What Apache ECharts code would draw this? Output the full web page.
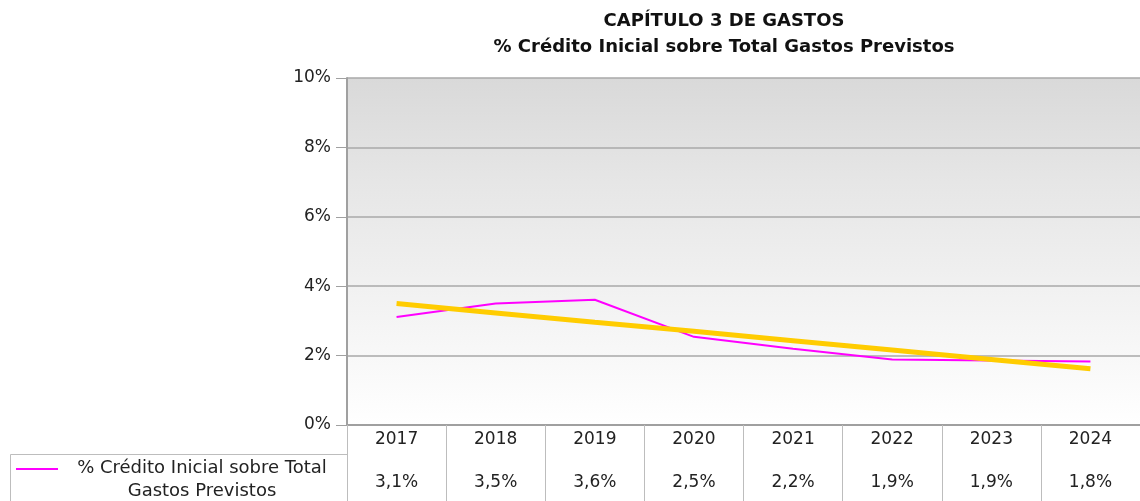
<!DOCTYPE html>
<html>
<head>
<meta charset="utf-8">
<script src="https://cdn.jsdelivr.net/npm/echarts@6/dist/echarts.min.js"></script>
<style>
  html, body { margin: 0; padding: 0; background: #fff; }
  #chart { width: 1140px; height: 501px; }
</style>
</head>
<body>
<div id="chart"></div>
<script>
// data
const years = ["2017", "2018", "2019", "2020", "2021", "2022", "2023", "2024"];
const creditoPct = [3.11, 3.50, 3.61, 2.54, 2.20, 1.89, 1.86, 1.83];
const trendPct = [3.50, 3.23, 2.96, 2.70, 2.43, 2.16, 1.89, 1.62];
const yTicks = [0, 2, 4, 6, 8, 10];
const seriesName = "% Crédito Inicial sobre Total\nGastos Previstos";

const font = "DejaVu Sans";
const lineGray = "#bdbdbd";

const chart = echarts.init(document.getElementById("chart"));

function fmtPct(v) {
  return v.toFixed(1).replace(".", ",") + "%";
}

const option = {
  backgroundColor: "#fff",
  animation: false,
  title: {
    text: "CAPÍTULO 3 DE GASTOS\n% Crédito Inicial sobre Total Gastos Previstos",
    left: 719,
    top: 3,
    textAlign: "center",
    textStyle: {
      fontFamily: font,
      fontSize: 18,
      fontWeight: "bold",
      color: "#111",
      lineHeight: 26,
    },
  },
  grid: [
    {
      left: 347,
      top: 78,
      width: 805,
      height: 347,
      show: true,
      borderWidth: 0,
      backgroundColor: new echarts.graphic.LinearGradient(0, 0, 0, 1, [
        { offset: 0, color: "#d9d9d9" },
        { offset: 0.3, color: "#e6e6e6" },
        { offset: 1, color: "#ffffff" },
      ]),
    },
    {
      left: 347,
      top: 454,
      width: 805,
      height: 54,
    },
  ],
  xAxis: [
    {
      gridIndex: 0,
      type: "category",
      data: years,
      boundaryGap: true,
      axisLine: { lineStyle: { color: "#a0a0a0", width: 2 } },
      axisTick: {
        show: true,
        interval: 0,
        length: 29,
        lineStyle: { color: lineGray, width: 1 },
      },
      axisLabel: {
        interval: 0,
        margin: 6,
        fontFamily: font,
        fontSize: 17,
        color: "#222",
      },
      splitLine: { show: false },
    },
    {
      gridIndex: 1,
      type: "category",
      data: years,
      position: "top",
      boundaryGap: true,
      axisLine: { show: true, lineStyle: { color: lineGray, width: 1 } },
      axisTick: { show: false },
      axisLabel: { show: false },
      splitLine: {
        show: true,
        interval: 0,
        lineStyle: { color: lineGray, width: 1 },
      },
    },
  ],
  yAxis: [
    {
      gridIndex: 0,
      type: "value",
      min: 0,
      max: 10,
      interval: 2,
      axisLine: { show: true, lineStyle: { color: "#a0a0a0", width: 2 } },
      axisTick: { show: true, length: 11, lineStyle: { color: "#a0a0a0" } },
      axisLabel: {
        margin: 16,
        fontFamily: font,
        fontSize: 17,
        color: "#222",
        formatter: (v) => (yTicks.includes(v) ? v + "%" : ""),
      },
      splitLine: { show: true, lineStyle: { color: "#a8a8a8", width: 1.5 } },
    },
    {
      gridIndex: 1,
      type: "value",
      min: 0,
      max: 1,
      show: false,
    },
  ],
  series: [
    {
      name: seriesName,
      type: "line",
      xAxisIndex: 0,
      yAxisIndex: 0,
      data: creditoPct,
      symbol: "none",
      lineStyle: { color: "#ff00ff", width: 2 },
      itemStyle: { color: "#ff00ff" },
      z: 3,
    },
    {
      name: "Tendencia",
      type: "line",
      xAxisIndex: 0,
      yAxisIndex: 0,
      data: trendPct,
      symbol: "none",
      lineStyle: { color: "#ffcc00", width: 5 },
      z: 4,
    },
    {
      name: "tabla",
      type: "scatter",
      xAxisIndex: 1,
      yAxisIndex: 1,
      data: creditoPct.map((v, i) => [i, 0.4]),
      symbolSize: 1,
      silent: true,
      itemStyle: { color: "rgba(0,0,0,0)" },
      label: {
        show: true,
        position: "inside",
        fontFamily: font,
        fontSize: 17,
        color: "#222",
        opacity: 1,
        textBorderWidth: 0,
        formatter: (p) => fmtPct(creditoPct[p.dataIndex]),
      },
      emphasis: { disabled: true },
    },
  ],
  graphic: [
    // legend cell of the data table
    {
      type: "line",
      shape: { x1: 10.5, y1: 454.5, x2: 347, y2: 454.5 },
      style: { stroke: lineGray, lineWidth: 1 },
    },
    {
      type: "line",
      shape: { x1: 10.5, y1: 454.5, x2: 10.5, y2: 501 },
      style: { stroke: lineGray, lineWidth: 1 },
    },
    {
      type: "line",
      shape: { x1: 16, y1: 469, x2: 58, y2: 469 },
      style: { stroke: "#ff00ff", lineWidth: 2 },
    },
    {
      type: "text",
      x: 202,
      y: 457,
      style: {
        text: seriesName,
        fontFamily: font,
        fontSize: 18,
        fill: "#222",
        align: "center",
        lineHeight: 23,
      },
    },
  ],
};

chart.setOption(option);
</script>
</body>
</html>
